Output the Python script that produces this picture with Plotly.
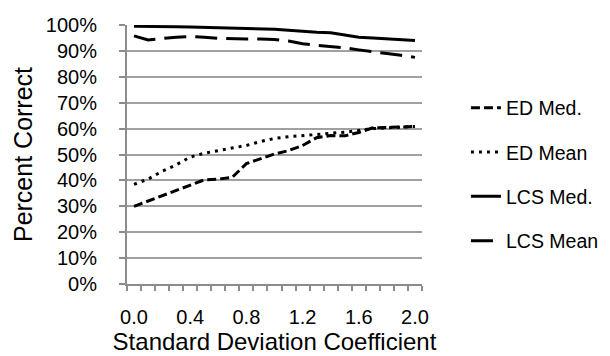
import plotly.graph_objects as go

# Standard deviation coefficient categories
sd_coef = [0.0, 0.1, 0.2, 0.3, 0.4, 0.5, 0.6, 0.7, 0.8, 0.9, 1.0,
           1.1, 1.2, 1.3, 1.4, 1.5, 1.6, 1.7, 1.8, 1.9, 2.0]

# Percent correct per series
ed_med = [30.0, 32.0, 34.2, 36.2, 38.2, 40.2, 40.5, 41.2, 46.5, 48.5, 50.2,
          51.5, 53.5, 56.5, 57.3, 57.2, 58.5, 60.3, 60.5, 60.7, 60.8]
ed_mean = [38.5, 40.5, 43.5, 46.0, 49.0, 50.5, 51.5, 52.5, 53.5, 55.0, 56.2,
           56.9, 57.2, 57.7, 58.2, 58.6, 59.3, 60.0, 60.3, 60.6, 60.8]
lcs_med = [99.5, 99.5, 99.4, 99.3, 99.2, 99.1, 99.0, 98.9, 98.8, 98.6, 98.4,
           98.0, 97.5, 97.2, 97.0, 96.2, 95.3, 95.0, 94.6, 94.2, 94.0]
lcs_mean = [95.8, 94.2, 94.8, 95.3, 95.5, 95.3, 94.8, 94.6, 94.6, 94.6, 94.4,
            93.8, 92.8, 92.2, 91.8, 91.2, 90.4, 89.6, 89.0, 88.3, 87.5]

x_tick_vals = [0.0, 0.4, 0.8, 1.2, 1.6, 2.0]
x_tick_text = ["0.0", "0.4", "0.8", "1.2", "1.6", "2.0"]

FONT = "Liberation Sans, Arial, sans-serif"
GRID = "#A0A0A0"
AXIS = "#8C8C8C"

fig = go.Figure()
series = [
    ("ED Med.", ed_med, "9px,4px"),
    ("ED Mean", ed_mean, "3px,5px"),
    ("LCS Med.", lcs_med, "solid"),
    ("LCS Mean", lcs_mean, "22px,9px"),
]
for name, vals, dash in series:
    fig.add_trace(go.Scatter(
        x=sd_coef, y=vals, name=name, mode="lines",
        legendgroup=name,
        line=dict(color="black", width=3, dash=dash),
    ))

fig.update_layout(
    width=610, height=356,
    margin=dict(l=119, r=196, t=17, b=80, autoexpand=False),
    paper_bgcolor="white", plot_bgcolor="white",
    font=dict(family=FONT, size=20, color="black"),
    showlegend=True,
    legend=dict(
        x=1.149, xanchor="left", y=0.755, yanchor="top",
        font=dict(size=19.5), tracegroupgap=16, itemwidth=30,
        bgcolor="rgba(0,0,0,0)",
    ),
    xaxis=dict(
        range=[-0.05, 2.05],
        tickmode="array", tickvals=x_tick_vals, ticktext=x_tick_text,
        ticks="", showgrid=False, zeroline=False,
        showline=True, linecolor=AXIS, linewidth=2,
        ticklabelstandoff=14,
        tickfont=dict(size=20),
        minor=dict(tick0=-0.05, dtick=0.1, ticks="outside", ticklen=5,
                   tickcolor=AXIS, tickwidth=1.5, showgrid=False),
        title=dict(text="Standard Deviation Coefficient",
                   font=dict(size=24), standoff=3),
    ),
    yaxis=dict(
        range=[0, 100], dtick=10, ticksuffix="%",
        ticks="outside", ticklen=6, tickcolor=AXIS, tickwidth=1.5,
        showgrid=True, gridcolor=GRID, gridwidth=1.5,
        zeroline=False, showline=True, linecolor=AXIS, linewidth=2,
        ticklabelstandoff=18,
        tickfont=dict(size=20),
        title=dict(text="Percent Correct", font=dict(size=25), standoff=6),
    ),
)

fig.write_html("out.html")
